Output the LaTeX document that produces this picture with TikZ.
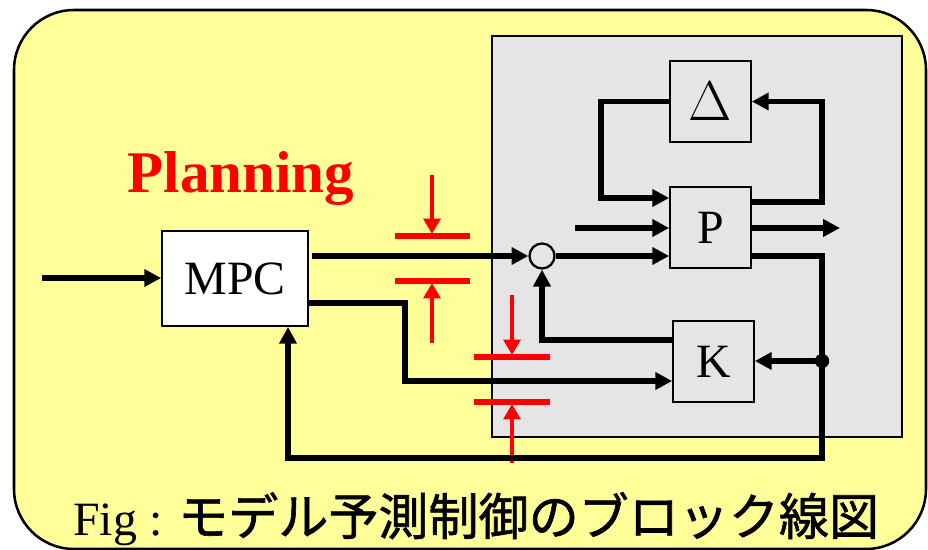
\documentclass[tikz,border=0pt]{standalone}
\usepackage{fontspec}
\setmainfont{Liberation Serif}
\newfontfamily\jpfont[FakeBold=1.2]{Noto Sans CJK JP}
\usetikzlibrary{arrows.meta}
\definecolor{padyellow}{HTML}{FFFF99}
\definecolor{plantgray}{HTML}{E5E5E5}

\begin{document}
\begin{tikzpicture}[x=0.025cm,y=-0.025cm,
  blk/.style={draw,line width=1.2pt,inner sep=0pt,font=\fontsize{34}{40}\selectfont},
  sig/.style={line width=4pt,-{Triangle[length=12pt,width=12pt]}},
  cutbar/.style={red,line width=4pt},
  cutarr/.style={red,line width=3.3pt,-{Triangle[length=11pt,width=12pt]}}]
\useasboundingbox (0,0) rectangle (928,550);
\filldraw[fill=padyellow,line width=1.8pt,rounded corners=1.5cm] (14,10) rectangle (926,549);
\filldraw[fill=plantgray,line width=1.3pt] (492,36) rectangle (902,437);
\node[blk,fill=white,minimum width=3.65cm,minimum height=2.375cm] (mpc) at (235,278.5) {MPC};
\node[blk,minimum size=2.025cm] (delta) at (710.5,101.5) {\scalebox{1.6}{$\Delta$}};
\node[blk,minimum size=2.025cm] (plant) at (710.5,227.5) {P};
\node[blk,minimum size=2.025cm] (ctrl) at (713.5,361.5) {K};
\node[draw,circle,line width=1.6pt,minimum size=0.625cm,inner sep=0pt] (sum) at (542,256) {};
\node[circle,fill,inner sep=0pt,minimum size=0.36cm] (tap) at (822,361) {};
\node[anchor=base,text=red,font=\bfseries\fontsize{42}{48}\selectfont] (plan) at (241,193) {Planning};
\node[anchor=base west,inner sep=0pt,font=\fontsize{34}{40}\selectfont] (cap) at (73,535) {Fig : {\jpfont\fontsize{35.6}{40}\selectfont モデル予測制御のブロック線図}};
% red cut marks
\draw[cutbar] (395,236) -- (470,236);
\draw[cutarr] (432,175) -- (432,234);
\draw[cutbar] (395,281) -- (470,281);
\draw[cutarr] (432,343) -- (432,283);
\draw[cutbar] (474,357) -- (550,357);
\draw[cutarr] (512,295) -- (512,355);
\draw[cutbar] (474,402) -- (550,402);
\draw[cutarr] (512,463) -- (512,404);
% signal lines
\coordinate (xin) at (42,278);
\coordinate (m1) at (312,256);
\coordinate (m2) at (405,303);
\coordinate (b1) at (405,381);
\coordinate (inP) at (575,228);
\coordinate (outP) at (840,228);
\coordinate (po1) at (822,202);
\coordinate (po2) at (822,256);
\coordinate (dl) at (601,198);
\coordinate (kl) at (543,340);
\coordinate (rr) at (822,458);
\coordinate (rl) at (288,458);
\draw[sig] (xin) -- (mpc.west |- xin);
\draw[sig] (m1) -- (sum.west);
\draw[sig] (mpc.east |- m2) -- (m2) -- (b1) -- (ctrl.west |- b1);
\draw[sig] (sum.east) -- (plant.west |- sum.east);
\draw[sig] (inP) -- (plant.west |- inP);
\draw[sig] (plant.east |- outP) -- (outP);
\draw[sig] (plant.east |- po1) -- (po1) |- (delta.east);
\draw[sig] (delta.west) -| (dl) -- (plant.west |- dl);
\draw[sig] (plant.east |- po2) -| (rr) -- (rl) -- (mpc.south -| rl);
\draw[sig] (tap.center) -- (ctrl.east |- tap);
\draw[sig] (ctrl.west |- kl) -| (sum.south);
\end{tikzpicture}
\end{document}
